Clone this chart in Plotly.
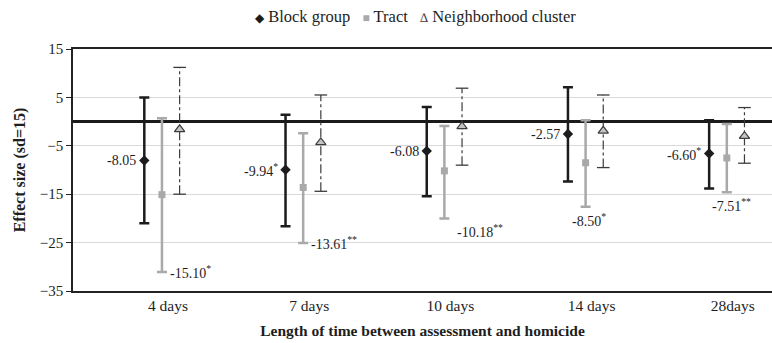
import plotly.graph_objects as go

categories = ["4 days", "7 days", "10 days", "14 days", "28days"]

bg_est = [-8.05, -9.94, -6.08, -2.57, -6.60]
bg_hi = [5.0, 1.4, 3.0, 7.1, 0.3]
bg_lo = [-21.0, -21.6, -15.4, -12.4, -13.8]
bg_labels = ["-8.05", "-9.94<sup>*</sup>", "-6.08", "-2.57", "-6.60<sup>*</sup>"]

tr_est = [-15.10, -13.61, -10.18, -8.50, -7.51]
tr_hi = [0.7, -2.4, -0.9, 0.3, -0.5]
tr_lo = [-31.1, -25.1, -20.0, -17.6, -14.6]
tr_labels = ["-15.10<sup>*</sup>", "-13.61<sup>**</sup>", "-10.18<sup>**</sup>",
             "-8.50<sup>*</sup>", "-7.51<sup>**</sup>"]

nc_est = [-1.6, -4.3, -1.0, -1.9, -3.0]
nc_hi = [11.2, 5.5, 6.9, 5.5, 2.9]
nc_lo = [-15.0, -14.4, -9.0, -9.5, -8.6]

series_names = ["Block group", "Tract", "Neighborhood cluster"]

# layout helpers (not data)
OFF = 0.125
FONT = "Liberation Serif, Times New Roman, serif"
BG_C = "#1c1c1c"
TR_C = "#a9a9a9"
NC_C = "#3c3c3c"
TXT = "#1e1e1e"

idx = list(range(len(categories)))
x_bg = [i - OFF for i in idx]
x_tr = [i for i in idx]
x_nc = [i + OFF for i in idx]

fig = go.Figure()

fig.add_trace(go.Scatter(
    x=x_bg, y=bg_est, mode="markers", name=series_names[0], showlegend=False,
    marker=dict(symbol="diamond", size=8, color=BG_C),
    error_y=dict(type="data", symmetric=False,
                 array=[h - e for h, e in zip(bg_hi, bg_est)],
                 arrayminus=[e - l for l, e in zip(bg_lo, bg_est)],
                 color=BG_C, thickness=2.5, width=5),
))

fig.add_trace(go.Scatter(
    x=x_tr, y=tr_est, mode="markers", name=series_names[1], showlegend=False,
    marker=dict(symbol="square", size=7, color=TR_C),
    error_y=dict(type="data", symmetric=False,
                 array=[h - e for h, e in zip(tr_hi, tr_est)],
                 arrayminus=[e - l for l, e in zip(tr_lo, tr_est)],
                 color=TR_C, thickness=2.5, width=5),
))

# neighborhood cluster dash-dot intervals
seg_x, seg_y = [], []
for x, lo, hi in zip(x_nc, nc_lo, nc_hi):
    seg_x += [x, x, None]
    seg_y += [lo, hi, None]
fig.add_trace(go.Scatter(
    x=seg_x, y=seg_y, mode="lines", showlegend=False, hoverinfo="skip",
    line=dict(color=NC_C, width=1.2, dash="dashdot"),
))
fig.add_trace(go.Scatter(
    x=x_nc + x_nc, y=nc_lo + nc_hi, mode="markers", showlegend=False,
    hoverinfo="skip",
    marker=dict(symbol="line-ew-open", size=9, color=NC_C,
                line=dict(color=NC_C, width=1.3)),
))
fig.add_trace(go.Scatter(
    x=x_nc, y=nc_est, mode="markers", name=series_names[2], showlegend=False,
    marker=dict(symbol="triangle-up", size=9, color="#c4c4c4",
                line=dict(color=NC_C, width=1.2)),
))

LBL = dict(family=FONT, size=14, color=TXT)

# labels
for x, e, t in zip(x_bg, bg_est, bg_labels):
    fig.add_annotation(x=x, y=e, text=t, showarrow=False, xanchor="right",
                       yanchor="middle", xshift=-6, font=LBL)

tr_mode = ["right", "right", "below", "below", "below"]
tr_dx = [0, 0, 36, 3, 5]
for k, (x, lo, t) in enumerate(zip(x_tr, tr_lo, tr_labels)):
    if tr_mode[k] == "right":
        fig.add_annotation(x=x, y=lo, text=t, showarrow=False, xanchor="left",
                           yanchor="middle", xshift=6, font=LBL)
    else:
        fig.add_annotation(x=x, y=lo, text=t, showarrow=False, xanchor="center",
                           yanchor="top", xshift=tr_dx[k], yshift=-2, font=LBL)

# legend (compact, as in the original)
sym = lambda s, c, fs: f"<span style='font-size:{fs}px;color:{c}'>{s}</span>"
legend_text = (f"{sym('◆', BG_C, 12)} {series_names[0]}&nbsp;&nbsp;&nbsp;"
               f"{sym('■', TR_C, 12)} {series_names[1]}&nbsp;&nbsp;&nbsp;"
               f"{sym('∆', NC_C, 13)} {series_names[2]}")
fig.add_annotation(xref="paper", yref="paper", x=0.49, y=1.136,
                   xanchor="center", yanchor="middle", showarrow=False,
                   text=legend_text, font=dict(family=FONT, size=16.5, color=TXT))

fig.update_layout(
    width=772, height=343,
    margin=dict(l=73, r=0, t=49, b=52),
    paper_bgcolor="white", plot_bgcolor="white",
    font=dict(family=FONT, size=14, color=TXT),
    showlegend=False,
    xaxis=dict(range=[-0.63, 4.32], tickvals=idx, ticktext=categories,
               showgrid=False, zeroline=False, showline=True, linecolor="#222",
               linewidth=1.5, mirror=True, ticks="", ticklabelshift=6,
               tickfont=dict(family=FONT, size=15.5, color=TXT),
               title=dict(text="<b>Length of time between assessment and homicide</b>",
                          font=dict(family=FONT, size=15.5, color=TXT), standoff=12)),
    yaxis=dict(range=[-35, 15], tickvals=[-35, -25, -15, -5, 5, 15],
               showgrid=True, gridcolor="#d9d9d9", gridwidth=1,
               zeroline=True, zerolinecolor="#1a1a1a", zerolinewidth=2.5,
               showline=True, linecolor="#222", linewidth=1.5,
               ticks="outside", ticklen=5, tickcolor="#222",
               tickfont=dict(family=FONT, size=15, color=TXT),
               title=dict(text="<b>Effect size (sd=15)</b>",
                          font=dict(family=FONT, size=16, color=TXT), standoff=10)),
)

fig.write_html("out.html")
